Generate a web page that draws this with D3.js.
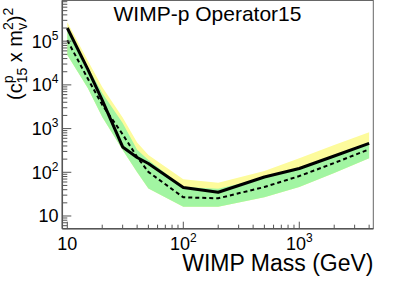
<!DOCTYPE html>
<html><head><meta charset="utf-8">
<script src="https://cdn.jsdelivr.net/npm/d3@7"></script>
<style>
body{margin:0;background:#fff}
svg{display:block}
text{font-family:"Liberation Sans",Arial,Helvetica,sans-serif;fill:#000}
</style>
</head><body><svg id="c" width="415" height="281"></svg>
<script>
// ---- data ----
const masses    = [10, 15, 20, 30, 40, 50, 100, 200, 500, 1000, 2000, 4000];
const observed  = [2.0e5, 2.3e4, 4.5e3, 380, 218, 159, 45, 35, 78, 122, 236, 460];
const expected  = [1.05e5, 1.4e4, 3.5e3, 740, 224, 102, 26.8, 25.4, 46, 82, 163, 336];
const band1Low  = [4.8e4, 8.5e3, 1.84e3, 324, 100, 42.6, 16.3, 16.3, 27, 46, 96, 209];
const band1High = [1.9e5, 2.6e4, 6.5e3, 1.35e3, 330, 190, 46, 42, 75, 125, 245, 490];
const band2Low  = [4.8e4, 8.5e3, 1.84e3, 324, 100, 42.6, 16.3, 16.3, 27, 46, 96, 209];
const band2High = [2.7e5, 3.6e4, 9.0e3, 1.8e3, 480, 248, 69, 58, 107, 210, 420, 822];

const xMajorTicks = [10, 100, 1000];
const xTickLabels = [["10", ""], ["10", "2"], ["10", "3"]];
const yMajorTicks = [10, 100, 1000, 1e4, 1e5];
const yTickLabels = [["10", ""], ["10", "2"], ["10", "3"], ["10", "4"], ["10", "5"]];
const titleText = "WIMP-p Operator15";
const xTitleText = "WIMP Mass (GeV)";

// ---- layout ----
const svg = d3.select("#c");
const L = 62.3, R = 373.3, T = 0.5, B = 228.7;
const x = d3.scaleLog().domain([9.055, 4345]).range([L, R]);
const y = d3.scaleLog().domain([5.12, 8.53e5]).range([B, T]);

svg.append("defs").append("clipPath").attr("id", "clip")
  .append("rect").attr("x", L).attr("y", T).attr("width", R - L).attr("height", B - T);

const rows = masses.map((m, i) => ({
  m, obs: observed[i], exp: expected[i],
  l1: band1Low[i], h1: band1High[i], l2: band2Low[i], h2: band2High[i]
}));

const plot = svg.append("g").attr("clip-path", "url(#clip)");
const area = (lo, hi) => d3.area().x(d => x(d.m)).y0(d => y(d[lo])).y1(d => y(d[hi]));
plot.append("path").datum(rows).attr("d", area("l2", "h2")).attr("fill", "#fdfb9c");
plot.append("path").datum(rows).attr("d", area("l1", "h1")).attr("fill", "#a2f5a2");
const line = key => d3.line().x(d => x(d.m)).y(d => y(d[key]));
plot.append("path").datum(rows).attr("d", line("exp")).attr("fill", "none")
  .attr("stroke", "#000").attr("stroke-width", 2).attr("stroke-dasharray", "4,3");
plot.append("path").datum(rows).attr("d", line("obs")).attr("fill", "none")
  .attr("stroke", "#000").attr("stroke-width", 3).attr("stroke-linejoin", "round");

// ---- frame ----
svg.append("rect").attr("x", L).attr("y", T).attr("width", R - L).attr("height", B - T)
  .attr("fill", "none").attr("stroke", "#666").attr("stroke-width", 1);
svg.append("line").attr("x1", L).attr("x2", L).attr("y1", T).attr("y2", B)
  .attr("stroke", "#555").attr("stroke-width", 1.5);
svg.append("line").attr("x1", L).attr("x2", R).attr("y1", B).attr("y2", B)
  .attr("stroke", "#555").attr("stroke-width", 1.5);

const isMajor = v => Math.abs(Math.log10(v) - Math.round(Math.log10(v))) < 1e-9;

// x ticks (inward)
x.ticks().forEach(v => {
  const px = x(v);
  if (px < L + 1 || px > R) return;
  const len = isMajor(v) ? 7 : 4;
  svg.append("line").attr("x1", px).attr("x2", px).attr("y1", B).attr("y2", B - len)
    .attr("stroke", "#555").attr("stroke-width", 1);
});
// y ticks (inward)
y.ticks().forEach(v => {
  const py = y(v);
  if (py < T || py > B - 1) return;
  const len = isMajor(v) ? 9 : 5;
  svg.append("line").attr("x1", L).attr("x2", L + len).attr("y1", py).attr("y2", py)
    .attr("stroke", "#555").attr("stroke-width", 1);
});

// x tick labels
xMajorTicks.forEach((v, i) => {
  const t = svg.append("text").attr("x", x(v)).attr("y", 250)
    .attr("text-anchor", "middle").attr("font-size", 18);
  t.append("tspan").text(xTickLabels[i][0]);
  if (xTickLabels[i][1]) t.append("tspan").attr("font-size", 12).attr("dy", -8).text(xTickLabels[i][1]);
});
// y tick labels
yMajorTicks.forEach((v, i) => {
  const t = svg.append("text").attr("x", 58.5).attr("y", y(v) + 6.5)
    .attr("text-anchor", "end").attr("font-size", 18);
  t.append("tspan").text(yTickLabels[i][0]);
  if (yTickLabels[i][1]) t.append("tspan").attr("font-size", 12).attr("dy", -8).text(yTickLabels[i][1]);
});

// title
svg.append("text").attr("x", 207.5).attr("y", 21).attr("text-anchor", "middle")
  .attr("font-size", 21).text(titleText);
// x title
svg.append("text").attr("x", 373.5).attr("y", 271).attr("text-anchor", "end")
  .attr("font-size", 23).text(xTitleText);

// y title: (c^p_15 x m_v^2)^2, rotated
const yt = svg.append("g").attr("transform", "translate(21.5,100) rotate(-90)");
let cx = 0;
function piece(str, size, dy) {
  const t = yt.append("text").attr("x", cx).attr("y", dy).attr("font-size", size)
    .attr("xml:space", "preserve").text(str);
  return t.node().getComputedTextLength();
}
cx += piece("(c", 20, 0);
{ const w1 = piece("p", 14, -9); const w2 = piece("15", 14, 5); cx += Math.max(w1, w2); }
cx += piece(" x m", 20, 0);
{ const w1 = piece("2", 14, -9); const w2 = piece("v", 14, 5); cx += Math.max(w1, w2); }
cx += piece(")", 20, 0);
cx += piece("2", 14, -9);
</script>
</body></html>
